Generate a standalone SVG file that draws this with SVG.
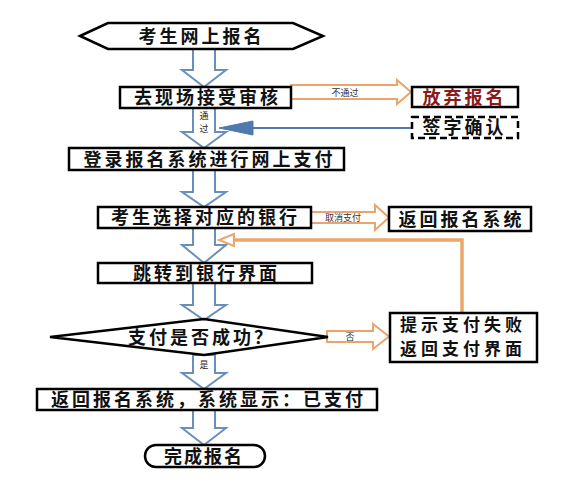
<svg xmlns="http://www.w3.org/2000/svg" width="568" height="490" viewBox="0 0 568 490">
<style>
.box{fill:#fff;stroke:#000;stroke-width:2.5}
.dash{fill:#fff;stroke:#000;stroke-width:2.5;stroke-dasharray:7 4}
.barr{fill:#fff;stroke:#6b8fbd;stroke-width:2}
.oarr{fill:#fff;stroke:#eaa46c;stroke-width:2}
.t{font-family:"Noto Sans CJK SC","Noto Sans",sans-serif;font-weight:bold;font-size:18px;letter-spacing:3px;text-anchor:middle;fill:#111}
.s{font-family:"Noto Sans CJK SC","Noto Sans",sans-serif;font-size:9px;text-anchor:middle;fill:#333}
.s2{font-family:"Noto Sans CJK SC","Noto Sans",sans-serif;font-size:9px;text-anchor:middle;fill:#222}
</style>
<g id="connectors">
<path class="barr" d="M193,49 H215 V70 H226 L204,87 L182,70 H193 Z"/>
<path class="barr" d="M193,108 H215 V132 H226 L204,148 L182,132 H193 Z"/>
<path class="barr" d="M193,170 H215 V192 H226 L204,207 L182,192 H193 Z"/>
<path class="barr" d="M193,228 H215 V245 H226 L204,263 L182,245 H193 Z"/>
<path class="barr" d="M193,283 H215 V305 H226 L204,320 L182,305 H193 Z"/>
<path class="barr" d="M193,355 H215 V373 H226 L204,389 L182,373 H193 Z"/>
<path class="barr" d="M193,410 H215 V428 H226 L204,445 L182,428 H193 Z"/>
<text class="s2" x="204" y="119">通</text>
<text class="s2" x="204" y="132">过</text>
<text class="s2" x="204" y="368">是</text>
<path class="oarr" d="M291,85 H397 V80 L411,92 L397,104 V99 H291 Z"/>
<text class="s" x="345" y="96">不通过</text>
<path class="oarr" d="M311,212 H375 V205 L389,217.5 L375,230 V223 H311 Z"/>
<text class="s" x="343" y="221">取消支付</text>
<path class="oarr" d="M327,331 H373 V324 L389,336.5 L373,349 V342 H327 Z"/>
<text class="s" x="350" y="340">否</text>
<line x1="412" y1="128" x2="250" y2="128" stroke="#4f79b0" stroke-width="2"/>
<path d="M219,128 L253,121 L253,135 Z" fill="#4f79b0" stroke="#4f79b0" stroke-width="1"/>
<path d="M462,313 V240 H234" fill="none" stroke="#eda66a" stroke-width="3.5"/>
<path d="M234,234 L219,240 L234,246 Z" fill="#fff" stroke="#eda66a" stroke-width="2"/>
</g>
<g id="n_start">
<polygon class="box" points="80,36 108,23 293,23 323,36 293,49 108,49" stroke-width="2"/>
<text class="t" x="201.5" y="42.5">考生网上报名</text>
</g>
<g id="n_review">
<rect class="box" x="120" y="87" width="171" height="21"/>
<text class="t" x="207.5" y="104">去现场接受审核</text>
</g>
<g id="n_abandon">
<rect class="box" x="412" y="87" width="106" height="20"/>
<text class="t" x="464.5" y="103.5" style="fill:#8b1a1a">放弃报名</text>
</g>
<g id="n_sign">
<rect class="dash" x="412" y="117" width="106" height="21"/>
<text class="t" x="464.5" y="134">签字确认</text>
</g>
<g id="n_login">
<rect class="box" x="69" y="148" width="275" height="22"/>
<text class="t" x="209.5" y="165.5">登录报名系统进行网上支付</text>
</g>
<g id="n_bank">
<rect class="box" x="98" y="207" width="213" height="21"/>
<text class="t" x="205.5" y="224">考生选择对应的银行</text>
</g>
<g id="n_back">
<rect class="box" x="389" y="207" width="142" height="24"/>
<text class="t" x="461.5" y="225.5">返回报名系统</text>
</g>
<g id="n_jump">
<rect class="box" x="98" y="263" width="214" height="20"/>
<text class="t" x="206.5" y="279.5">跳转到银行界面</text>
</g>
<g id="n_decide">
<polygon class="box" points="50,337 204,319 328,337 204,355" stroke-width="2"/>
<text class="t" x="201.5" y="343.5">支付是否成功？</text>
</g>
<g id="n_fail">
<rect class="box" x="390" y="313" width="147" height="49"/>
<text class="t" x="463" y="331" style="font-size:17px;letter-spacing:4px">提示支付失败</text>
<text class="t" x="463" y="355" style="font-size:17px;letter-spacing:4px">返回支付界面</text>
</g>
<g id="n_paid">
<rect class="box" x="37" y="389" width="340" height="21"/>
<text class="t" x="208.5" y="406">返回报名系统，系统显示：已支付</text>
</g>
<g id="n_end">
<rect class="box" x="145" y="445" width="120" height="22" rx="11" ry="11" stroke-width="2"/>
<text class="t" x="204" y="462.5" style="letter-spacing:2px">完成报名</text>
</g>
</svg>
